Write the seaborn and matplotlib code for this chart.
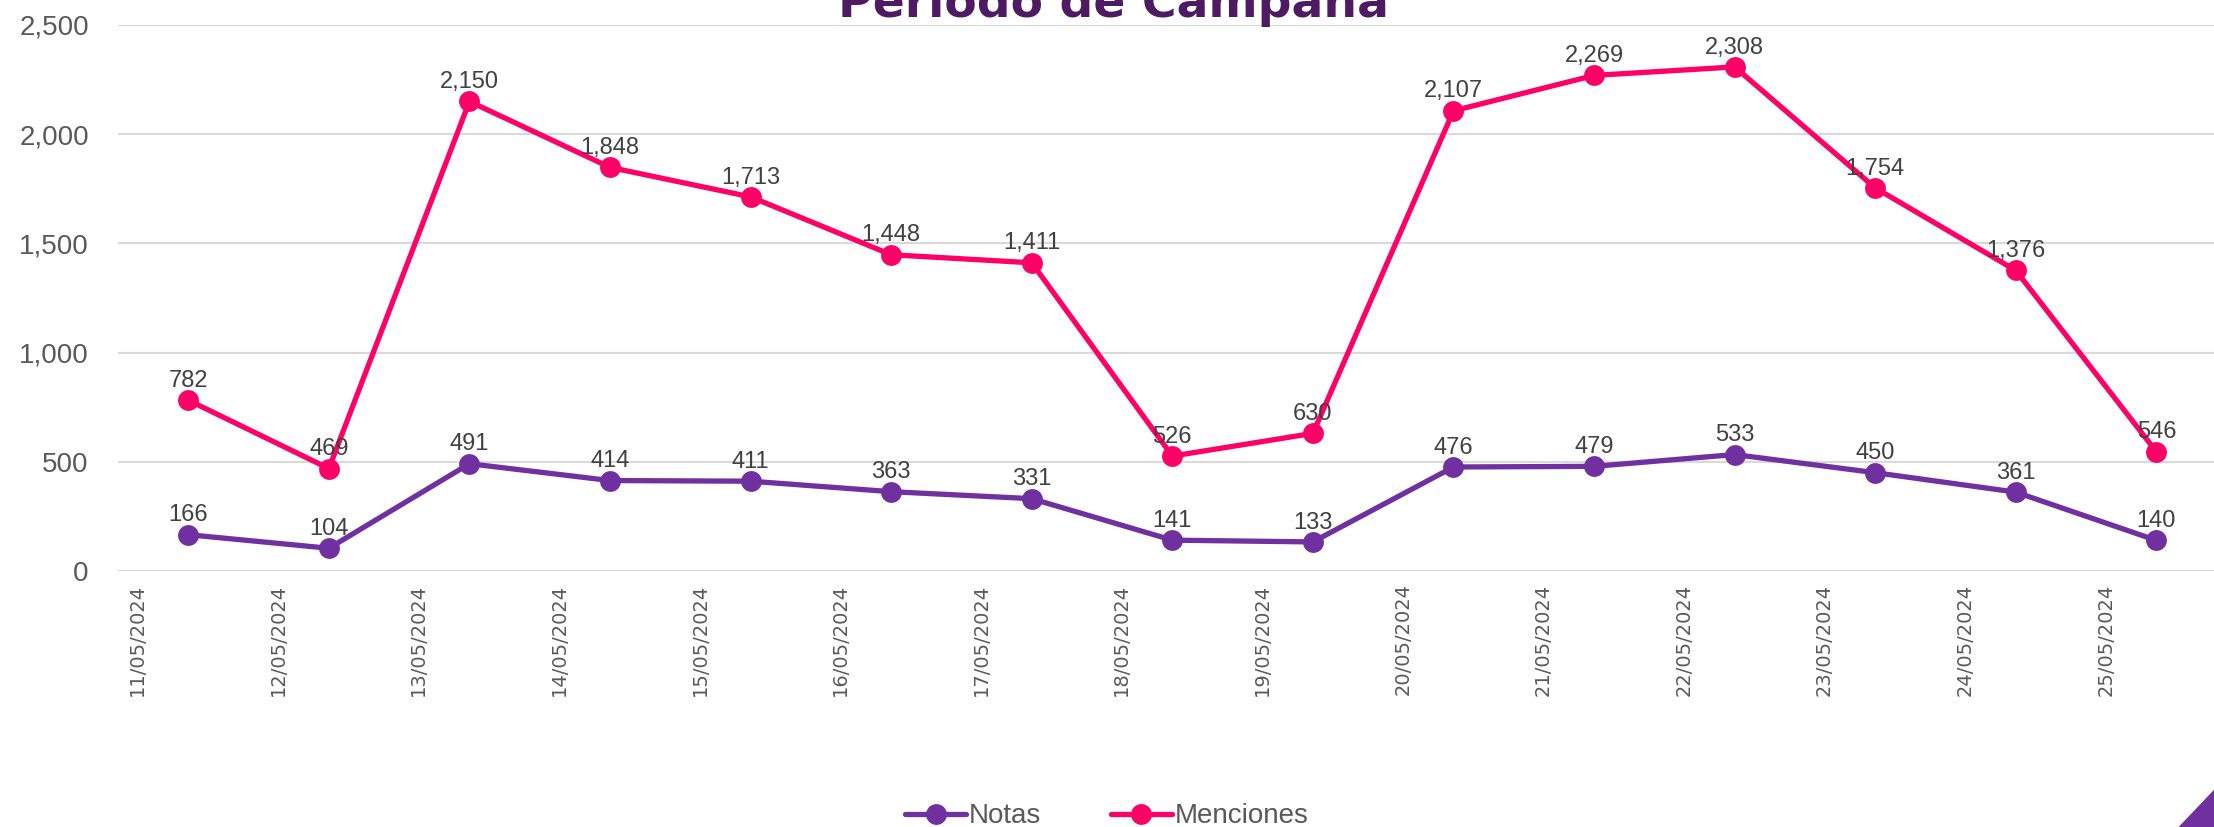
import matplotlib
matplotlib.use("Agg")
import matplotlib.pyplot as plt
import matplotlib.ticker as mticker
from matplotlib.patches import Polygon
import pandas as pd
import seaborn as sns

# data
dates = ['11/05/2024', '12/05/2024', '13/05/2024', '14/05/2024', '15/05/2024',
         '16/05/2024', '17/05/2024', '18/05/2024', '19/05/2024', '20/05/2024',
         '21/05/2024', '22/05/2024', '23/05/2024', '24/05/2024', '25/05/2024']
notas = [166, 104, 491, 414, 411, 363, 331, 141, 133, 476, 479, 533, 450, 361, 140]
menciones = [782, 469, 2150, 1848, 1713, 1448, 1411, 526, 630, 2107, 2269, 2308, 1754, 1376, 546]

series_names = ['Notas', 'Menciones']
colors = {'Notas': '#7030A0', 'Menciones': '#FF0066'}

rows = []
for i, d in enumerate(dates):
    rows.append({'pos': i, 'fecha': d, 'serie': 'Notas', 'valor': notas[i]})
    rows.append({'pos': i, 'fecha': d, 'serie': 'Menciones', 'valor': menciones[i]})
df = pd.DataFrame(rows)

sns.set_style('white')
plt.rcParams['font.family'] = ['Liberation Sans', 'DejaVu Sans']

fig = plt.figure(figsize=(22.14, 8.27), dpi=100)
ax = fig.add_axes([0.0533, 0.3096, 0.9467, 0.6602])

sns.lineplot(data=df, x='pos', y='valor', hue='serie', hue_order=series_names,
             palette=colors, marker='o', markersize=15, markeredgewidth=0,
             linewidth=3.8, ax=ax, legend=True)

# data labels
for name, vals in (('Notas', notas), ('Menciones', menciones)):
    for i, v in enumerate(vals):
        ax.annotate(f'{v:,}', (i, v), xytext=(0, 6), textcoords='offset points',
                    ha='center', va='bottom', fontsize=17, color='#404040')

ax.set_ylim(0, 2500)
ax.set_xlim(-0.5, 14.41)
ax.yaxis.set_major_locator(mticker.MultipleLocator(500))
ax.yaxis.set_major_formatter(mticker.FuncFormatter(lambda v, p: f'{int(v):,}'))
ax.grid(axis='y', color='#D9D9D9', linewidth=1.5)
ax.grid(axis='x', visible=False)
for s in ax.spines.values():
    s.set_visible(False)

ax.set_xticks([i - 0.36 for i in range(len(dates))])
ax.set_xticklabels(dates, rotation=90, family='DejaVu Sans', fontsize=14, color='#595959')
ax.tick_params(axis='x', length=0, pad=9)
ax.tick_params(axis='y', length=0, pad=21, labelsize=20, labelcolor='#595959')
ax.set_xlabel('')
ax.set_ylabel('')

leg = ax.legend(loc='center', bbox_to_anchor=(0.5, 0.013), bbox_transform=fig.transFigure,
                ncol=2, frameon=False, fontsize=20, handlelength=2.2, columnspacing=2.5,
                handletextpad=0.1)
for t in leg.get_texts():
    t.set_color('#595959')

fig.text(0.503, 0.979, 'Período de Campaña', ha='center', va='baseline',
         fontsize=34, fontweight='bold', color='#4E1B63', family='DejaVu Sans')

fig.patches.append(Polygon([(1, 0.045), (0.984, 0), (1, 0)], closed=True,
                           transform=fig.transFigure, facecolor='#7030A0', edgecolor='none'))

fig.savefig('out.png', dpi=100)
